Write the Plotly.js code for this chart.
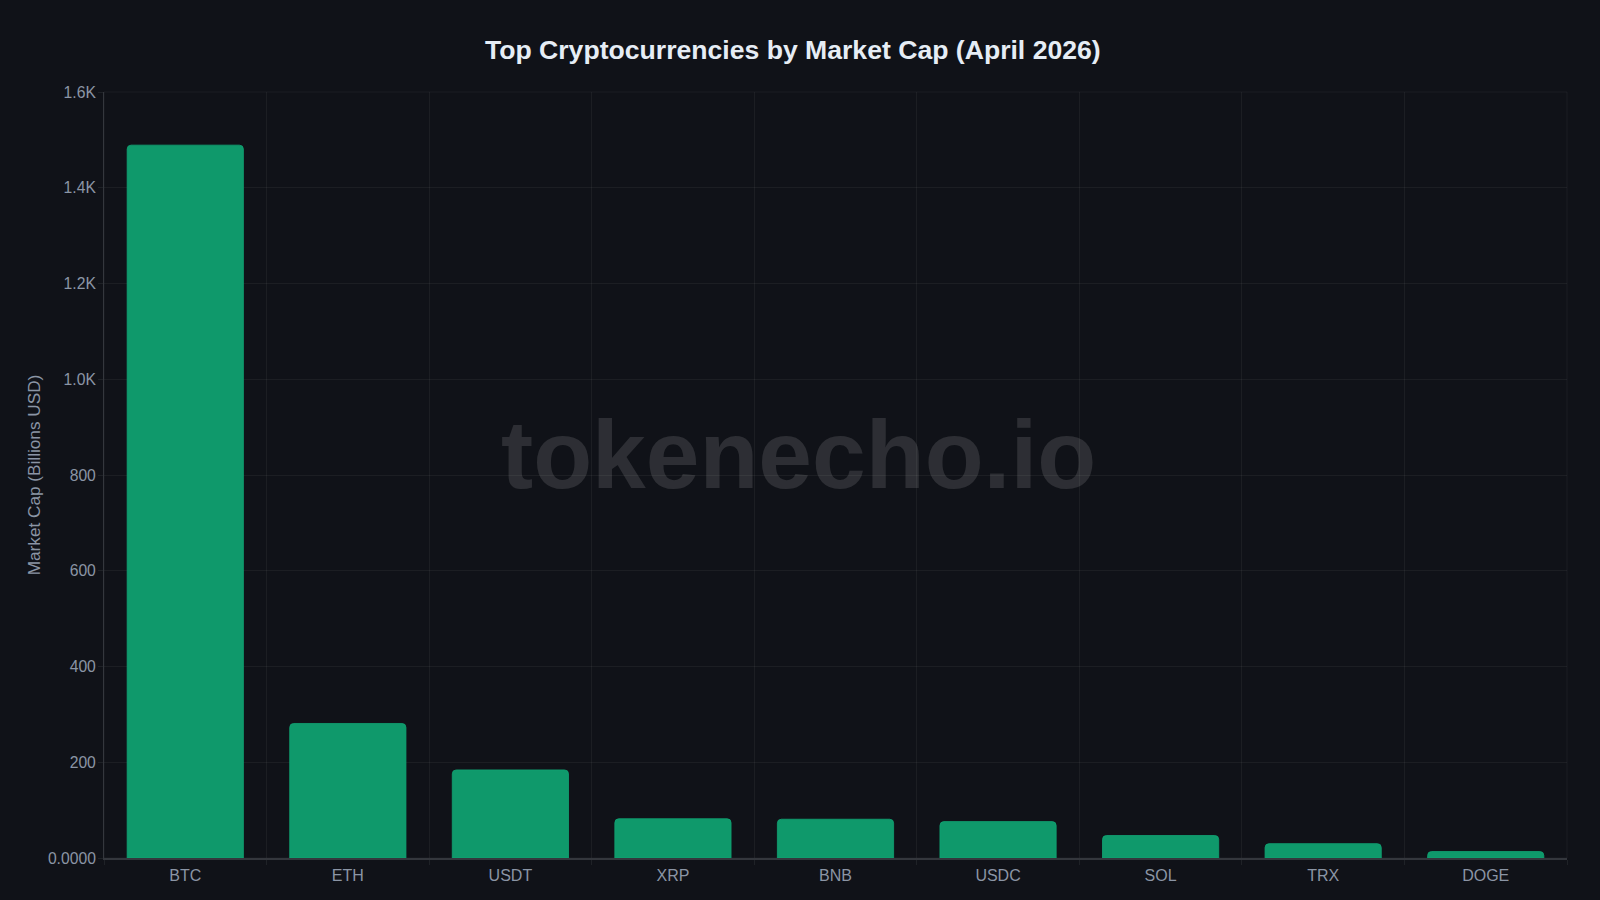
<!DOCTYPE html>
<html><head><meta charset="utf-8">
<script src="https://cdn.plot.ly/plotly-3.0.1.min.js"></script>
<style>html,body{margin:0;padding:0;background:#101218}</style>
</head><body><div id="c" style="width:1600px;height:900px"></div>
<script>
const categories=["BTC","ETH","USDT","XRP","BNB","USDC","SOL","TRX","DOGE"];
const marketCaps=[1489,281,184,82,81,76,47,30,13.5];
const yTickVals=[0,200,400,600,800,1000,1200,1400,1600];
const yTickText=["0.0000","200","400","600","800","1.0K","1.2K","1.4K","1.6K"];
const font="'Liberation Sans', Arial, sans-serif";
const grid='rgba(255,255,255,0.05)';
Plotly.newPlot('c',[{type:'bar',x:categories,y:marketCaps,width:0.715,
 marker:{color:'#0f996b',line:{color:'#10a373',width:0.8}}}],{
 width:1600,height:900,paper_bgcolor:'#101218',plot_bgcolor:'#101218',
 margin:{l:104,r:33,t:92,b:42.3},showlegend:false,barcornerradius:4,
 font:{family:font,color:'#8b95a5',size:14},
 title:{text:'<b>Top Cryptocurrencies by Market Cap (April 2026)</b>',x:0.4955,xanchor:'center',y:0.945,yanchor:'middle',font:{family:font,size:26.6,color:'#e6edf5'}},
 xaxis:{type:'category',tickson:'boundaries',showgrid:true,gridcolor:grid,gridwidth:1,
  showline:true,linecolor:'#34373d',linewidth:1.5,ticks:'outside',ticklen:5,tickcolor:'#1f2227',ticklabelstandoff:2,tickfont:{size:16,color:'#8b95a5',family:font},zeroline:false},
 yaxis:{range:[0,1600],tickmode:'array',tickvals:yTickVals,ticktext:yTickText,showgrid:true,gridcolor:grid,gridwidth:1,
  showline:true,linecolor:'#34373d',linewidth:1,ticks:'outside',ticklen:5,tickcolor:'#1f2227',ticklabelstandoff:-1,tickfont:{size:15.7,color:'#8b95a5',family:font},zeroline:false,
  title:{text:'Market Cap (Billions USD)',standoff:2,font:{size:17.2,color:'#8b95a5',family:font}}},
 shapes:[{type:'rect',xref:'paper',yref:'paper',x0:0,x1:1,y0:0,y1:1,layer:'below',line:{color:grid,width:1}}],
 annotations:[{text:'<b>tokenecho.io</b>',xref:'paper',yref:'paper',x:0.475,y:0.5267,xanchor:'center',yanchor:'middle',showarrow:false,font:{family:font,size:96.5,color:'rgba(255,255,255,0.12)'}}]
},{displayModeBar:false});
</script></body></html>
